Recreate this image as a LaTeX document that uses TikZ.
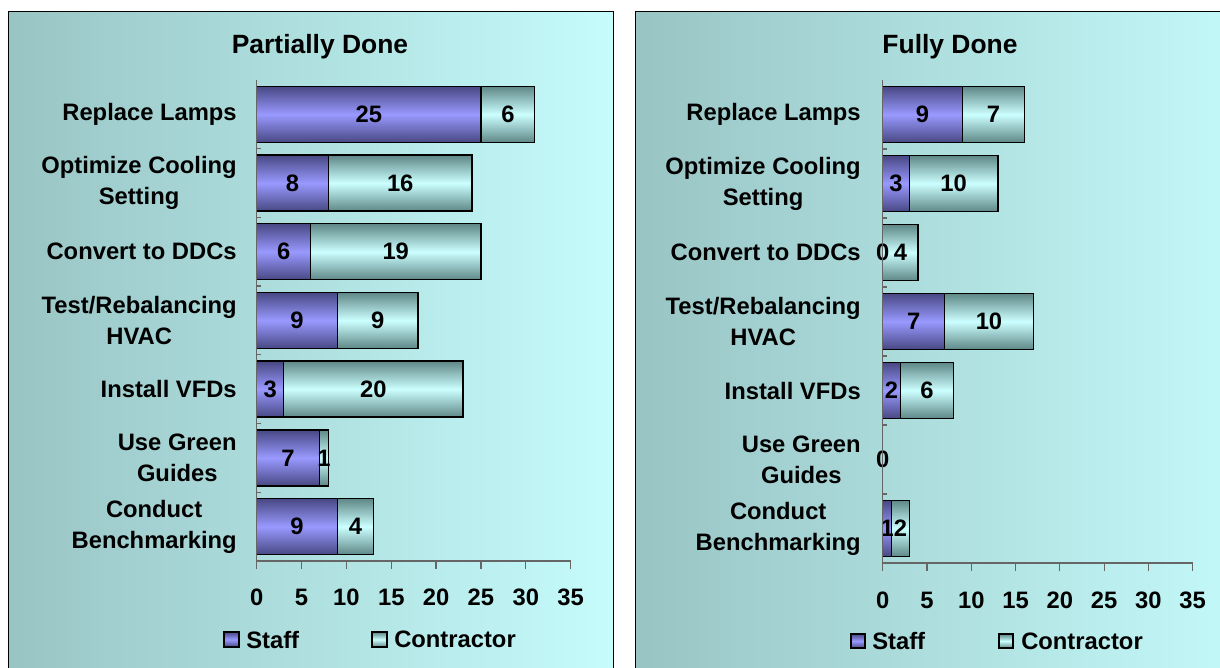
\documentclass[tikz,border=0pt]{standalone}
\usepackage{fontspec}
\setmainfont{Liberation Sans}
\definecolor{bgleft}{RGB}{153,196,196}
\definecolor{bgright}{RGB}{198,252,252}
\definecolor{staffmid}{RGB}{153,153,255}
\definecolor{staffedge}{RGB}{72,72,132}
\definecolor{contrmid}{RGB}{204,255,255}
\definecolor{contredge}{RGB}{95,135,135}
\newcommand\chartfont{\fontsize{16.9}{22}\selectfont\bfseries}
\tikzset{
  panel/.style={draw=black, line width=0.7pt, left color=bgleft, right color=bgright},
  staffbar/.style={draw=black, line width=1pt, top color=staffedge, bottom color=staffedge, middle color=staffmid},
  contrbar/.style={draw=black, line width=1pt, top color=contredge, bottom color=contredge, middle color=contrmid},
  axisline/.style={draw=black!60, line width=0.9pt},
  lbl/.style={font=\chartfont, inner sep=0pt},
  catlbl/.style={lbl, align=center, anchor=east},
  titlelbl/.style={font=\fontsize{18.8}{22}\selectfont\bfseries, inner sep=0pt}
}

\begin{document}
\begin{tikzpicture}[x=0.025cm, y=-0.025cm]
  \clip (0,0) rectangle (1220,667);

  % left chart: partially done
  \path[panel] (8,11) rectangle (613,690);
  \node[titlelbl] (tleft) at (320,47) {Partially Done};
  \foreach \i/\name/\s/\c in {1/{Replace Lamps}/25/6, 2/{Optimize Cooling\\Setting}/8/16,
      3/{Convert to DDCs}/6/19, 4/{Test/Rebalancing\\HVAC}/9/9, 5/{Install VFDs}/3/20,
      6/{Use Green\\Guides}/7/1, 7/{Conduct\\Benchmarking}/9/4}{
    \pgfmathsetmacro\yc{80+68.7*(\i-0.5)}
    \pgfmathsetmacro\xs{256.7+8.97*\s}
    \pgfmathsetmacro\xc{256.7+8.97*(\s+\c)}
    \node[catlbl] (lcat\i) at (237,\yc) {\name};
    \ifnum\s>0 \draw[staffbar] (256.7,\yc-28) rectangle (\xs,\yc+28); \fi
    \ifnum\c>0 \draw[contrbar] (\xs,\yc-28) rectangle (\xc,\yc+28); \fi
    \node[lbl] (lsv\i) at ({(256.7+\xs)/2},\yc) {\s};
    \ifnum\c>0 \node[lbl] (lcv\i) at ({(\xs+\xc)/2},\yc) {\c}; \fi
  }
  \draw[axisline] (256.7,80) -- (256.7,561) -- (570.7,561);
  \foreach \k in {1,...,7}
    \draw[axisline] (256.7,80+68.7*\k) -- ++(4,0);
  \foreach \v in {0,5,...,35}{
    \draw[axisline] (256.7+8.97*\v,561) -- ++(0,8);
    \node[lbl] (ltick\v) at (256.7+8.97*\v,597) {\v};
  }
  \draw[staffbar, line width=0.8pt] (224,632) rectangle (239,647);
  \node[lbl, anchor=west] (lstaff) at (246,639.5) {Staff};
  \draw[contrbar, line width=0.8pt] (372,632) rectangle (387,647);
  \node[lbl, anchor=west] (lcontr) at (394,639.5) {Contractor};

  % right chart: fully done
  \path[panel] (635,11) rectangle (1270,690);
  \node[titlelbl] (tright) at (950,47) {Fully Done};
  \foreach \i/\name/\s/\c in {1/{Replace Lamps}/9/7, 2/{Optimize Cooling\\Setting}/3/10,
      3/{Convert to DDCs}/0/4, 4/{Test/Rebalancing\\HVAC}/7/10, 5/{Install VFDs}/2/6,
      6/{Use Green\\Guides}/0/0, 7/{Conduct\\Benchmarking}/1/2}{
    \pgfmathsetmacro\yc{80+69*(\i-0.5)}
    \pgfmathsetmacro\xs{882.7+8.857*\s}
    \pgfmathsetmacro\xc{882.7+8.857*(\s+\c)}
    \node[catlbl] (rcat\i) at (861,\yc) {\name};
    \ifnum\s>0 \draw[staffbar] (882.7,\yc-28) rectangle (\xs,\yc+28); \fi
    \ifnum\c>0 \draw[contrbar] (\xs,\yc-28) rectangle (\xc,\yc+28); \fi
    \node[lbl] (rsv\i) at ({(882.7+\xs)/2},\yc) {\s};
    \ifnum\c>0 \node[lbl] (rcv\i) at ({(\xs+\xc)/2},\yc) {\c}; \fi
  }
  \draw[axisline] (882.7,80) -- (882.7,563) -- (1192.7,563);
  \foreach \k in {1,...,7}
    \draw[axisline] (882.7,80+69*\k) -- ++(4,0);
  \foreach \v in {0,5,...,35}{
    \draw[axisline] (882.7+8.857*\v,563) -- ++(0,8);
    \node[lbl] (rtick\v) at (882.7+8.857*\v,600) {\v};
  }
  \draw[staffbar, line width=0.8pt] (851,634) rectangle (865,648);
  \node[lbl, anchor=west] (rstaff) at (872,641) {Staff};
  \draw[contrbar, line width=0.8pt] (999,634) rectangle (1013,648);
  \node[lbl, anchor=west] (rcontr) at (1021,641) {Contractor};
\end{tikzpicture}
\end{document}
